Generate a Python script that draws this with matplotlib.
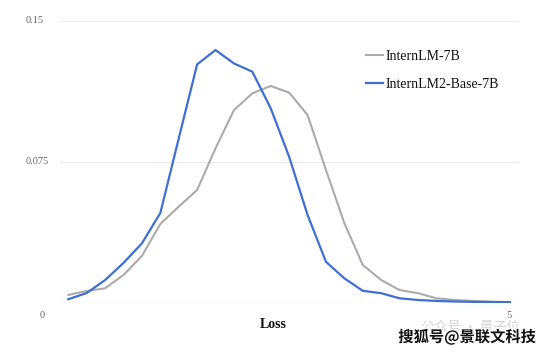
import matplotlib.pyplot as plt
import matplotlib.patheffects as pe
import numpy as np

# loss buckets (0.2 .. 5.0)
loss = [0.2, 0.4, 0.6, 0.8, 1.0, 1.2, 1.4, 1.6, 1.8, 2.0, 2.2, 2.4, 2.6,
        2.8, 3.0, 3.2, 3.4, 3.6, 3.8, 4.0, 4.2, 4.4, 4.6, 4.8, 5.0]

internlm_7b = [0.0043, 0.0064, 0.0078, 0.0149, 0.0250, 0.0420, 0.0512, 0.0601,
               0.0822, 0.1025, 0.1114, 0.1153, 0.1118, 0.0999, 0.0707, 0.0424,
               0.0202, 0.0122, 0.0069, 0.0052, 0.0025, 0.0016, 0.0011, 0.0007,
               0.0005]

internlm2_base_7b = [0.0020, 0.0053, 0.0122, 0.0213, 0.0317, 0.0478, 0.0874,
                     0.1268, 0.1344, 0.1273, 0.1229, 0.1034, 0.0777, 0.0468,
                     0.0219, 0.0131, 0.0065, 0.0052, 0.0025, 0.0016, 0.0011,
                     0.0008, 0.0006, 0.0005, 0.0004]

y_ticks = [0, 0.075, 0.15]
y_labels = ['', '0.075', '0.15']

gray = '#ababab'
blue = '#3f6fd4'
serif = 'Liberation Serif'
cjk = ['Noto Sans CJK SC', 'DejaVu Sans']

fig = plt.figure(figsize=(5.53, 3.57), dpi=100)
ax = fig.add_axes([60 / 553, 1 - 303 / 357, 458 / 553, (303 - 20.7) / 357])

ax.plot(loss, internlm_7b, color=gray, lw=1.5, label='InternLM-7B')
ax.plot(loss, internlm2_base_7b, color=blue, lw=1.6, label='InternLM2-Base-7B')

ax.set_xlim(0.2 - 8.3 / 92, 5.0 + 8 / 92)
ax.set_ylim(0, 0.15)

# gridlines
for v in y_ticks:
    ax.axhline(v, color='#dcdcdc' if v == 0 else '#ececec', lw=0.9, zorder=0)

for s in ax.spines.values():
    s.set_visible(False)
ax.set_xticks([])
ax.set_yticks([])

# y tick labels, left aligned like the original
for v, lab in zip(y_ticks, y_labels):
    if lab:
        fig.text(26 / 553, 1 - (303 - v / 0.15 * 282.3) / 357, lab, ha='left', va='center',
                 family=serif, fontsize=7.5, color='#666666')

# x tick labels
fig.text(42 / 553, 1 - 316 / 357, '0', ha='center', va='center',
         family=serif, fontsize=7.5, color='#666666')
fig.text(509 / 553, 1 - 315 / 357, '5', ha='center', va='center',
         family=serif, fontsize=7.5, color='#666666')

fig.text(273 / 553, 1 - 324 / 357, 'Loss', ha='center', va='center',
         family=serif, fontsize=10, fontweight='bold', color='#111111')

leg = ax.legend(loc='upper left', bbox_to_anchor=(0.657, 0.915), frameon=False,
                prop={'family': serif, 'size': 10}, handlelength=1.2,
                handletextpad=0.15, labelspacing=1.05, borderaxespad=0)
for t in leg.get_texts():
    t.set_color('#111111')

# watermark (faint one sits behind the dark one, as in the source)
fig.text(470 / 553, 1 - 327 / 357, '公众号 · 量子位', ha='center', va='center',
         family=cjk, fontsize=9.5, color='#d4d4d4')
fig.text(467 / 553, 1 - 337 / 357, '搜狐号@景联文科技', ha='center', va='center',
         family=cjk, fontsize=11, fontweight='bold',
         color='#111111', path_effects=[pe.withStroke(linewidth=2, foreground='white')])

fig.savefig('out.png', dpi=100)
